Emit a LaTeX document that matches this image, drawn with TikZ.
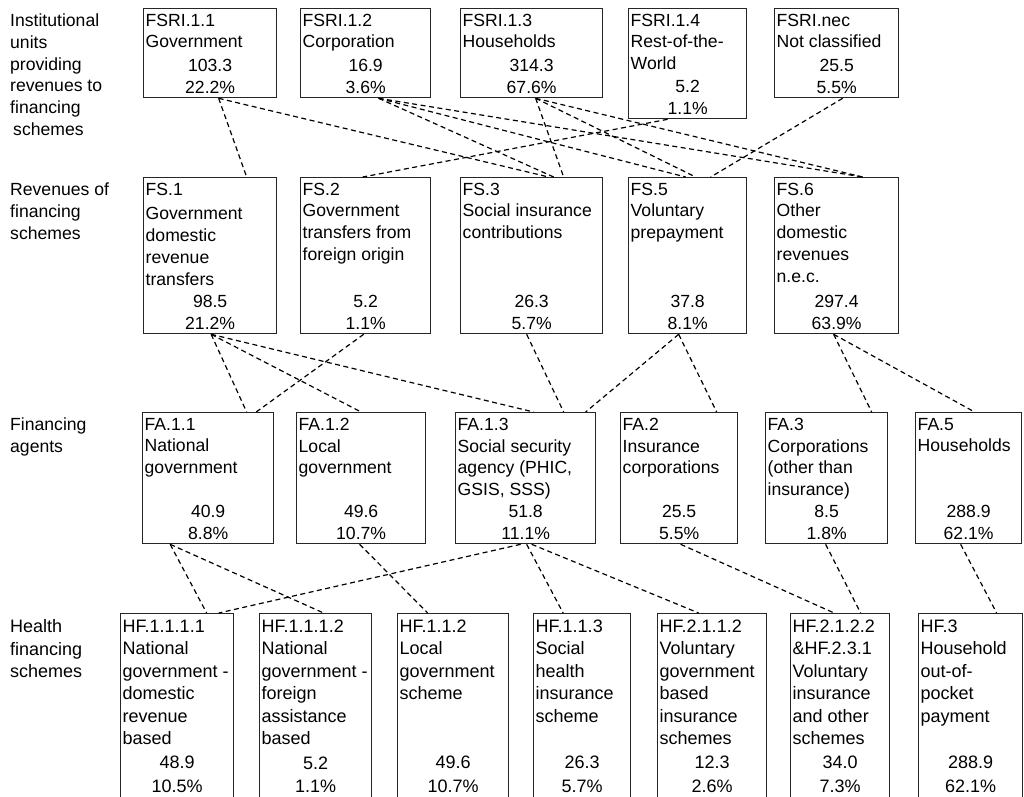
\documentclass[tikz,border=0pt]{standalone}
\usepackage{fontspec}
\setmainfont{Liberation Sans}
\tikzset{
  box/.style={draw=black!85, line width=1.3pt, inner sep=0pt, anchor=north west},
  desc/.style={anchor=north west, inner sep=0pt, align=left, font=\fontsize{17.6}{21.7}\selectfont},
  vals/.style={anchor=south, inner sep=0pt, align=center, font=\fontsize{17.6}{22}\selectfont},
  hfdesc/.style={desc, font=\fontsize{18}{22.5}\selectfont},
  hfvals/.style={vals, font=\fontsize{18}{23.5}\selectfont},
  link/.style={dash pattern=on 5pt off 3.5pt, line width=1.2pt}
}
\begin{document}
\begin{tikzpicture}[x=1pt,y=-1pt]
\useasboundingbox (0,0) rectangle (1024,796);
\clip (0,0) rectangle (1024,796);
% row labels
\node[desc] (lab1) at (10,13.8) {Institutional\\units\\providing\\revenues to\\financing\\\hspace*{3pt}schemes};
\node[desc] (lab2) at (10,182.8) {Revenues of\\financing\\schemes};
\node[desc] (lab3) at (10,417.8) {Financing\\agents};
\node[hfdesc] (lab4) at (10,619.5) {Health\\financing\\schemes};
% institutional units
\node[box, minimum width=133, minimum height=89] (fsri11) at (143,8) {};
\node[desc] (fsri11d) at ([shift={(2.5,5.8)}]fsri11.north west) {FSRI.1.1\\Government};
\node[vals] (fsri11v) at ([yshift=4.5pt]fsri11.south) {103.3\\22.2\%};
\node[box, minimum width=130, minimum height=89] (fsri12) at (300,8) {};
\node[desc] (fsri12d) at ([shift={(2.5,5.8)}]fsri12.north west) {FSRI.1.2\\Corporation};
\node[vals] (fsri12v) at ([yshift=4.5pt]fsri12.south) {16.9\\3.6\%};
\node[box, minimum width=142, minimum height=89] (fsri13) at (460,8) {};
\node[desc] (fsri13d) at ([shift={(2.5,5.8)}]fsri13.north west) {FSRI.1.3\\Households};
\node[vals] (fsri13v) at ([yshift=4.5pt]fsri13.south) {314.3\\67.6\%};
\node[box, minimum width=118, minimum height=110] (fsri14) at (628,8) {};
\node[desc] (fsri14d) at ([shift={(2.5,5.8)}]fsri14.north west) {FSRI.1.4\\Rest-of-the-\\World};
\node[vals] (fsri14v) at ([yshift=4.5pt]fsri14.south) {5.2\\1.1\%};
\node[box, minimum width=124, minimum height=89] (fsrinec) at (774,8) {};
\node[desc] (fsrinecd) at ([shift={(2.5,5.8)}]fsrinec.north west) {FSRI.nec\\Not classified};
\node[vals] (fsrinecv) at ([yshift=4.5pt]fsrinec.south) {25.5\\5.5\%};
% revenues of financing schemes
\node[box, minimum width=133, minimum height=156] (fs1) at (143,177) {};
\node[desc] (fs1d) at ([shift={(2.5,5.8)}]fs1.north west) {FS.1\\[3pt]Government\\domestic\\revenue\\transfers};
\node[vals] (fs1v) at ([yshift=4.5pt]fs1.south) {98.5\\21.2\%};
\node[box, minimum width=130, minimum height=156] (fs2) at (300,177) {};
\node[desc] (fs2d) at ([shift={(2.5,5.8)}]fs2.north west) {FS.2\\Government\\transfers from\\foreign origin};
\node[vals] (fs2v) at ([yshift=4.5pt]fs2.south) {5.2\\1.1\%};
\node[box, minimum width=142, minimum height=156] (fs3) at (460,177) {};
\node[desc] (fs3d) at ([shift={(2.5,5.8)}]fs3.north west) {FS.3\\Social insurance\\contributions};
\node[vals] (fs3v) at ([yshift=4.5pt]fs3.south) {26.3\\5.7\%};
\node[box, minimum width=118, minimum height=156] (fs5) at (628,177) {};
\node[desc] (fs5d) at ([shift={(2.5,5.8)}]fs5.north west) {FS.5\\Voluntary\\prepayment};
\node[vals] (fs5v) at ([yshift=4.5pt]fs5.south) {37.8\\8.1\%};
\node[box, minimum width=124, minimum height=156] (fs6) at (774,177) {};
\node[desc] (fs6d) at ([shift={(2.5,5.8)}]fs6.north west) {FS.6\\Other\\domestic\\revenues\\n.e.c.};
\node[vals] (fs6v) at ([yshift=4.5pt]fs6.south) {297.4\\63.9\%};
% financing agents
\node[box, minimum width=131, minimum height=131] (fa11) at (142,412) {};
\node[desc] (fa11d) at ([shift={(2.5,5.8)}]fa11.north west) {FA.1.1\\National\\government};
\node[vals] (fa11v) at ([yshift=4.5pt]fa11.south) {40.9\\8.8\%};
\node[box, minimum width=129, minimum height=131] (fa12) at (296,412) {};
\node[desc] (fa12d) at ([shift={(2.5,5.8)}]fa12.north west) {FA.1.2\\Local\\government};
\node[vals] (fa12v) at ([yshift=4.5pt]fa12.south) {49.6\\10.7\%};
\node[box, minimum width=140, minimum height=131] (fa13) at (455,412) {};
\node[desc] (fa13d) at ([shift={(2.5,5.8)}]fa13.north west) {FA.1.3\\Social security\\agency (PHIC,\\GSIS, SSS)};
\node[vals] (fa13v) at ([yshift=4.5pt]fa13.south) {51.8\\11.1\%};
\node[box, minimum width=117, minimum height=131] (fa2) at (620,412) {};
\node[desc] (fa2d) at ([shift={(2.5,5.8)}]fa2.north west) {FA.2\\Insurance\\corporations};
\node[vals] (fa2v) at ([yshift=4.5pt]fa2.south) {25.5\\5.5\%};
\node[box, minimum width=122, minimum height=131] (fa3) at (765,412) {};
\node[desc] (fa3d) at ([shift={(2.5,5.8)}]fa3.north west) {FA.3\\Corporations\\(other than\\insurance)};
\node[vals] (fa3v) at ([yshift=4.5pt]fa3.south) {8.5\\1.8\%};
\node[box, minimum width=106, minimum height=131] (fa5) at (915,412) {};
\node[desc] (fa5d) at ([shift={(2.5,5.8)}]fa5.north west) {FA.5\\Households};
\node[vals] (fa5v) at ([yshift=4.5pt]fa5.south) {288.9\\62.1\%};
% health financing schemes (cut at the bottom edge)
\node[box, minimum width=113, minimum height=185] (hf1111) at (120,613) {};
\node[hfdesc] (hf1111d) at ([shift={(2.5,6.5)}]hf1111.north west) {HF.1.1.1.1\\National\\government -\\domestic\\revenue\\based};
\node[hfvals] (hf1111v) at ([yshift=6.5pt]hf1111.south) {48.9\\10.5\%};
\node[box, minimum width=112, minimum height=185] (hf1112) at (259,613) {};
\node[hfdesc] (hf1112d) at ([shift={(2.5,6.5)}]hf1112.north west) {HF.1.1.1.2\\National\\government -\\foreign\\assistance\\based};
\node[hfvals] (hf1112v) at ([yshift=6.5pt]hf1112.south) {5.2\\1.1\%};
\node[box, minimum width=111, minimum height=185] (hf112) at (397,613) {};
\node[hfdesc] (hf112d) at ([shift={(2.5,6.5)}]hf112.north west) {HF.1.1.2\\Local\\government\\scheme};
\node[hfvals] (hf112v) at ([yshift=6.5pt]hf112.south) {49.6\\10.7\%};
\node[box, minimum width=97, minimum height=185] (hf113) at (533,613) {};
\node[hfdesc] (hf113d) at ([shift={(2.5,6.5)}]hf113.north west) {HF.1.1.3\\Social\\health\\insurance\\scheme};
\node[hfvals] (hf113v) at ([yshift=6.5pt]hf113.south) {26.3\\5.7\%};
\node[box, minimum width=109, minimum height=185] (hf2112) at (657,613) {};
\node[hfdesc] (hf2112d) at ([shift={(2.5,6.5)}]hf2112.north west) {HF.2.1.1.2\\Voluntary\\government\\based\\insurance\\schemes};
\node[hfvals] (hf2112v) at ([yshift=6.5pt]hf2112.south) {12.3\\2.6\%};
\node[box, minimum width=99, minimum height=185] (hf2122) at (790,613) {};
\node[hfdesc] (hf2122d) at ([shift={(2.5,6.5)}]hf2122.north west) {HF.2.1.2.2\\\&HF.2.3.1\\Voluntary\\insurance\\and other\\schemes};
\node[hfvals] (hf2122v) at ([yshift=6.5pt]hf2122.south) {34.0\\7.3\%};
\node[box, minimum width=104, minimum height=185] (hf3) at (918,613) {};
\node[hfdesc] (hf3d) at ([shift={(2.5,6.5)}]hf3.north west) {HF.3\\Household\\out-of-\\pocket\\payment};
\node[hfvals] (hf3v) at ([yshift=6.5pt]hf3.south) {288.9\\62.1\%};
% units -> revenues
\draw[link] ([xshift=8.5pt]fsri11.south) -- ([xshift=36.5pt]fs1.north);
\draw[link] ([xshift=8.5pt]fsri11.south) -- ([xshift=17pt]fs3.north);
\draw[link] ([xshift=13pt]fsri12.south) -- ([xshift=22pt]fs3.north);
\draw[link] ([xshift=13pt]fsri12.south) -- ([xshift=-2pt]fs5.north);
\draw[link] ([xshift=13pt]fsri12.south) -- ([xshift=26pt]fs6.north);
\draw[link] ([xshift=4pt]fsri13.south) -- ([xshift=32pt]fs3.north);
\draw[link] ([xshift=4pt]fsri13.south) -- ([xshift=8pt]fs5.north);
\draw[link] ([xshift=4pt]fsri13.south) -- ([xshift=26pt]fs6.north);
\draw[link] ([xshift=-20pt]fsri14.south) -- ([xshift=-3pt]fs2.north);
\draw[link] ([xshift=6pt]fsrinec.south) -- ([xshift=23pt]fs5.north);
% revenues -> agents
\draw[link] ([xshift=1pt]fs1.south) -- ([xshift=38.5pt]fa11.north);
\draw[link] ([xshift=1pt]fs1.south) -- (fa12.north);
\draw[link] ([xshift=1pt]fs1.south) -- ([xshift=8pt]fa13.north);
\draw[link] ([xshift=-2pt]fs2.south) -- ([xshift=48pt]fa11.north);
\draw[link] ([xshift=-5pt]fs3.south) -- ([xshift=38pt]fa13.north);
\draw[link] ([xshift=-9pt]fs5.south) -- ([xshift=60pt]fa13.north);
\draw[link] ([xshift=-9pt]fs5.south) -- ([xshift=37.5pt]fa2.north);
\draw[link] ([xshift=-3pt]fs6.south) -- ([xshift=45pt]fa3.north);
\draw[link] ([xshift=-3pt]fs6.south) -- ([xshift=6pt]fa5.north);
% agents -> schemes
\draw[link] ([xshift=-38pt]fa11.south) -- ([xshift=29.5pt]hf1111.north);
\draw[link] ([xshift=-38pt]fa11.south) -- ([xshift=8pt]hf1112.north);
\draw[link] ([xshift=-1.5pt]fa12.south) -- ([xshift=-25.5pt]hf112.north);
\draw[link] ([xshift=-5pt]fa13.south) -- ([xshift=41.5pt]hf1111.north);
\draw[link] ([xshift=1pt]fa13.south) -- ([xshift=-19pt]hf113.north);
\draw[link] ([xshift=6pt]fa13.south) -- ([xshift=-13.5pt]hf2112.north);
\draw[link] ([xshift=1.5pt]fa2.south) -- ([xshift=-6pt]hf2122.north);
\draw[link] ([xshift=-1pt]fa3.south) -- ([xshift=20.5pt]hf2122.north);
\draw[link] ([xshift=-8pt]fa5.south) -- ([xshift=26pt]hf3.north);
\end{tikzpicture}
\end{document}
